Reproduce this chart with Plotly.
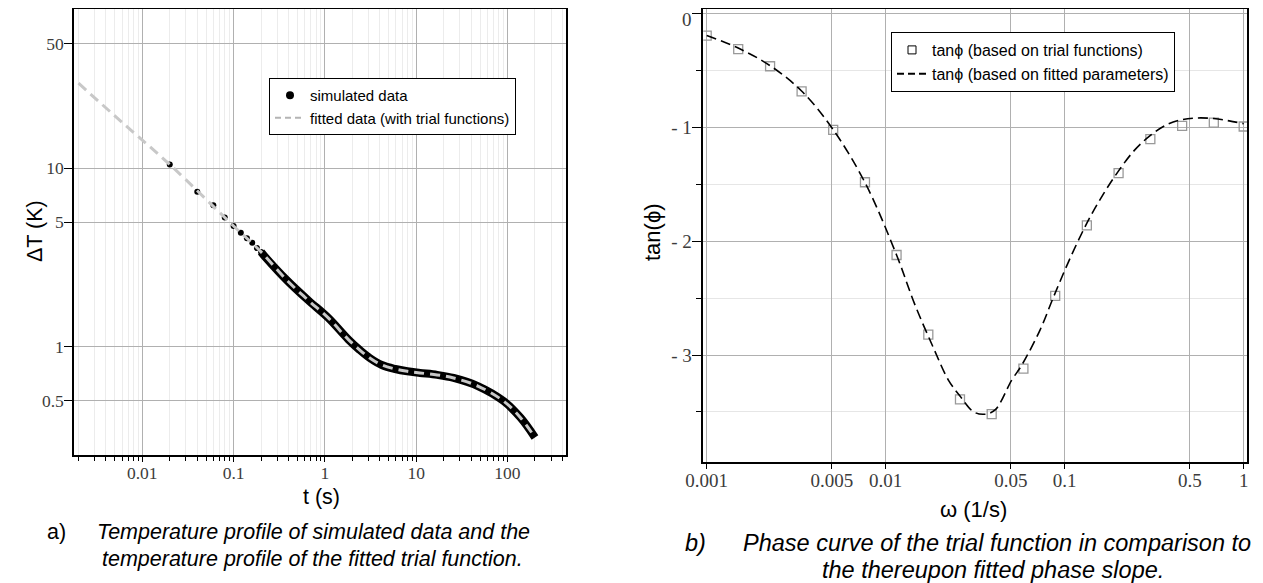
import plotly.graph_objects as go

# the page adds an 8px body margin, so the figure is 8px smaller and all
# reference pixel positions are shifted by that amount
OFF = 8
W, H = 1263 - OFF, 583 - OFF

# ---- a) temperature profile ----
t_sim = [0.02, 0.04, 0.06, 0.08, 0.10, 0.12, 0.14, 0.16, 0.18, 0.20]
dT_sim = [10.5, 7.4, 6.2, 5.3, 4.75, 4.35, 4.05, 3.82, 3.57, 3.40]

# dense part of the simulated data (points merge into a band)
t_band = [0.2, 0.229, 0.38, 0.65, 1.09, 1.8, 2.4, 3.1, 4.2, 5.9, 8.0, 11, 17, 25.7, 48, 91, 139, 200]
dT_band = [3.40, 3.13, 2.37, 1.83, 1.45, 1.10, 0.96, 0.865, 0.79, 0.75, 0.728, 0.713, 0.695, 0.668, 0.600, 0.495, 0.40, 0.31]

t_fit = [0.002, 0.0063, 0.02, 0.1, 0.2, 0.38, 0.65, 1.09, 1.8, 2.4, 3.1, 4.2, 5.9, 8.0, 11, 17, 25.7, 48, 91, 139, 200]
dT_fit = [30.0, 17.7, 10.5, 4.75, 3.40, 2.37, 1.83, 1.45, 1.10, 0.96, 0.865, 0.79, 0.75, 0.728, 0.713, 0.695, 0.668, 0.600, 0.495, 0.40, 0.31]

a_xtick_vals = [0.01, 0.1, 1, 10, 100]
a_xtick_text = ["0.01", "0.1", "1", "10", "100"]
a_ytick_vals = [0.5, 1, 5, 10, 50]
a_ytick_text = ["0.5", "1", "5", "10", "50"]

# ---- b) phase curve ----
w_trial = [0.001, 0.0015, 0.00226, 0.00339, 0.00509, 0.00766, 0.0115, 0.0173, 0.026,
           0.0391, 0.0588, 0.0885, 0.133, 0.2, 0.301, 0.453, 0.681, 1.0]
tan_trial = [-0.19, -0.31, -0.46, -0.68, -1.02, -1.48, -2.12, -2.82, -3.39,
             -3.52, -3.12, -2.48, -1.86, -1.40, -1.10, -0.985, -0.955, -0.99]

w_fit = [0.001, 0.0015, 0.00226, 0.0034, 0.0051, 0.0077, 0.0115, 0.0145, 0.0184, 0.0224,
         0.026, 0.031, 0.036, 0.041, 0.0506, 0.0575, 0.0728, 0.0866, 0.105, 0.133,
         0.165, 0.2, 0.245, 0.3, 0.37, 0.45, 0.55, 0.68, 0.83, 1.0]
tan_fit = [-0.19, -0.30, -0.455, -0.68, -1.02, -1.49, -2.12, -2.55, -2.93, -3.22,
           -3.36, -3.50, -3.52, -3.48, -3.22, -3.09, -2.78, -2.49, -2.18, -1.84,
           -1.58, -1.38, -1.20, -1.07, -0.975, -0.93, -0.915, -0.92, -0.94, -0.965]

b_xtick_vals = [0.001, 0.005, 0.01, 0.05, 0.1, 0.5, 1]
b_xtick_text = ["0.001", "0.005", "0.01", "0.05", "0.1", "0.5", "1"]
b_ytick_vals = [0, -1, -2, -3]
b_ytick_text = ["0", "- 1", "- 2", "- 3"]
b_yminor_vals = [-0.5, -1.5, -2.5, -3.5]

SANS = "Liberation Sans, Arial, sans-serif"
SERIF = "Liberation Serif, Times New Roman, serif"


def fx(x):
    return (x - OFF) / W


def fy(y):
    return 1 - (y - OFF) / H


fig = go.Figure()

fig.add_trace(go.Scatter(x=t_band, y=dT_band, mode="lines", showlegend=False,
                         line=dict(color="black", width=8, shape="spline")))
fig.add_trace(go.Scatter(x=t_sim, y=dT_sim, mode="markers", showlegend=False,
                         marker=dict(color="black", size=6)))
fig.add_trace(go.Scatter(x=t_fit, y=dT_fit, mode="lines", showlegend=False,
                         line=dict(color="#c8c8c8", width=3, dash="10px,6px", shape="spline")))
# legend entries
fig.add_trace(go.Scatter(x=[None], y=[None], mode="markers", name="simulated data",
                         marker=dict(color="black", size=8)))
fig.add_trace(go.Scatter(x=[None], y=[None], mode="lines", name="fitted data (with trial functions)",
                         line=dict(color="#b4b4b4", width=2, dash="6px,4px")))

fig.add_trace(go.Scatter(x=w_trial, y=tan_trial, mode="markers", showlegend=False,
                         xaxis="x2", yaxis="y2",
                         marker=dict(symbol="square-open", size=9, color="#999999",
                                     line=dict(width=1.3))))
fig.add_trace(go.Scatter(x=w_fit, y=tan_fit, mode="lines", showlegend=False,
                         xaxis="x2", yaxis="y2",
                         line=dict(color="black", width=1.6, dash="10px,5px", shape="spline")))
fig.add_trace(go.Scatter(x=[None], y=[None], mode="markers", name="tan\u03d5 (based on trial functions)",
                         xaxis="x2", yaxis="y2", legend="legend2",
                         marker=dict(symbol="square-open", size=8, color="black", line=dict(width=1))))
fig.add_trace(go.Scatter(x=[None], y=[None], mode="lines", name="tan\u03d5 (based on fitted parameters)",
                         xaxis="x2", yaxis="y2", legend="legend2",
                         line=dict(color="black", width=2, dash="7px,4px")))

tickfont_a = dict(family=SERIF, size=17.5, color="#3c3c3c")
tickfont_b = dict(family=SERIF, size=19, color="#3c3c3c")
minor_x = [m * 10.0 ** k for k in range(-3, 3) for m in range(2, 10)]

common = dict(showline=True, linecolor="black", linewidth=1.5, mirror=True,
              ticks="outside", tickcolor="black", tickwidth=1, zeroline=False,
              automargin=False, ticklabeloverflow="allow")

fig.update_layout(
    width=W, height=H,
    margin=dict(l=0, r=0, t=0, b=0, pad=0, autoexpand=False),
    paper_bgcolor="white", plot_bgcolor="white",
    showlegend=True,
    xaxis=dict(type="log", domain=[fx(74), fx(566)], range=[-2.748, 2.641],
               tickvals=a_xtick_vals, ticktext=a_xtick_text, ticklen=5,
               ticklabelstandoff=-4,
               tickfont=tickfont_a, showgrid=True, gridcolor="#b0b0b0", gridwidth=1,
               minor=dict(tickmode="array", tickvals=minor_x, ticks="outside", ticklen=4,
                          tickcolor="black", showgrid=True, gridcolor="#ececec"),
               anchor="y", **common),
    yaxis=dict(type="log", domain=[fy(455), fy(9)], range=[-0.607, 1.893],
               tickvals=a_ytick_vals, ticktext=a_ytick_text, ticklen=8,
               ticklabelstandoff=-3,
               tickfont=tickfont_a, showgrid=True, gridcolor="#b0b0b0", gridwidth=1,
               anchor="x", **common),
    xaxis2=dict(type="log", domain=[fx(703.3), fx(1247)], range=[-3.019, 0.0185],
                tickvals=b_xtick_vals, ticktext=b_xtick_text, ticklen=6,
                ticklabelstandoff=-5,
                tickfont=tickfont_b, showgrid=True, gridcolor="#b0b0b0", gridwidth=1,
                anchor="y2", **common),
    # the top label "0" sits at the very edge of the page; it is drawn as an annotation below
    yaxis2=dict(domain=[fy(461.7), fy(9.3)], range=[-3.938, 0.041],
                tickvals=b_ytick_vals, ticktext=[""] + b_ytick_text[1:], ticklen=10,
                ticklabelstandoff=-4,
                tickfont=tickfont_b, showgrid=True, gridcolor="#b0b0b0", gridwidth=1,
                minor=dict(tickmode="array", tickvals=b_yminor_vals, ticks="outside", ticklen=6,
                           tickcolor="black", showgrid=True, gridcolor="#e6e6e6"),
                anchor="x2", **common),
    legend=dict(x=fx(269), y=fy(78), xanchor="left", yanchor="top",
                bgcolor="white", bordercolor="black", borderwidth=1,
                font=dict(family=SANS, size=15, color="black"), tracegroupgap=0),
    legend2=dict(x=fx(891), y=fy(32), xanchor="left", yanchor="top",
                 bgcolor="white", bordercolor="black", borderwidth=1,
                 font=dict(family=SANS, size=16, color="black"), tracegroupgap=0),
)

fig.add_annotation(text=b_ytick_text[0], x=fx(693), y=fy(8), xref="paper", yref="paper",
                   xanchor="right", yanchor="top", showarrow=False, borderpad=0,
                   font=tickfont_b)

texts = [
    # (text, x, y, xanchor, size, angle) in reference pixels
    ("\u0394T (K)", 35, 231, "center", 21.5, -90),
    ("t (s)", 321, 497, "center", 21.5, 0),
    ("tan(\u03d5)", 652, 232, "center", 22, -90),
    ("\u03c9 (1/s)", 973, 509, "center", 22, 0),
    ("a)", 45, 532, "left", 21.5, 0),
    ("<i>Temperature profile of simulated data and the</i>", 313, 532, "center", 21.5, 0),
    ("<i>temperature profile of the fitted trial function.</i>", 312, 559, "center", 21.5, 0),
    ("<i>b)</i>", 683, 543, "left", 23.5, 0),
    ("<i>Phase curve of the trial function in comparison to</i>", 997, 543, "center", 23.5, 0),
    ("<i>the thereupon fitted phase slope.</i>", 993, 570, "center", 23.5, 0),
]
for txt, x, y, xa, size, ang in texts:
    fig.add_annotation(text=txt, x=fx(x), y=fy(y), xref="paper", yref="paper",
                       xanchor=xa, yanchor="middle", showarrow=False, textangle=ang,
                       font=dict(family=SANS, size=size, color="black"))

fig.write_html("out.html")
